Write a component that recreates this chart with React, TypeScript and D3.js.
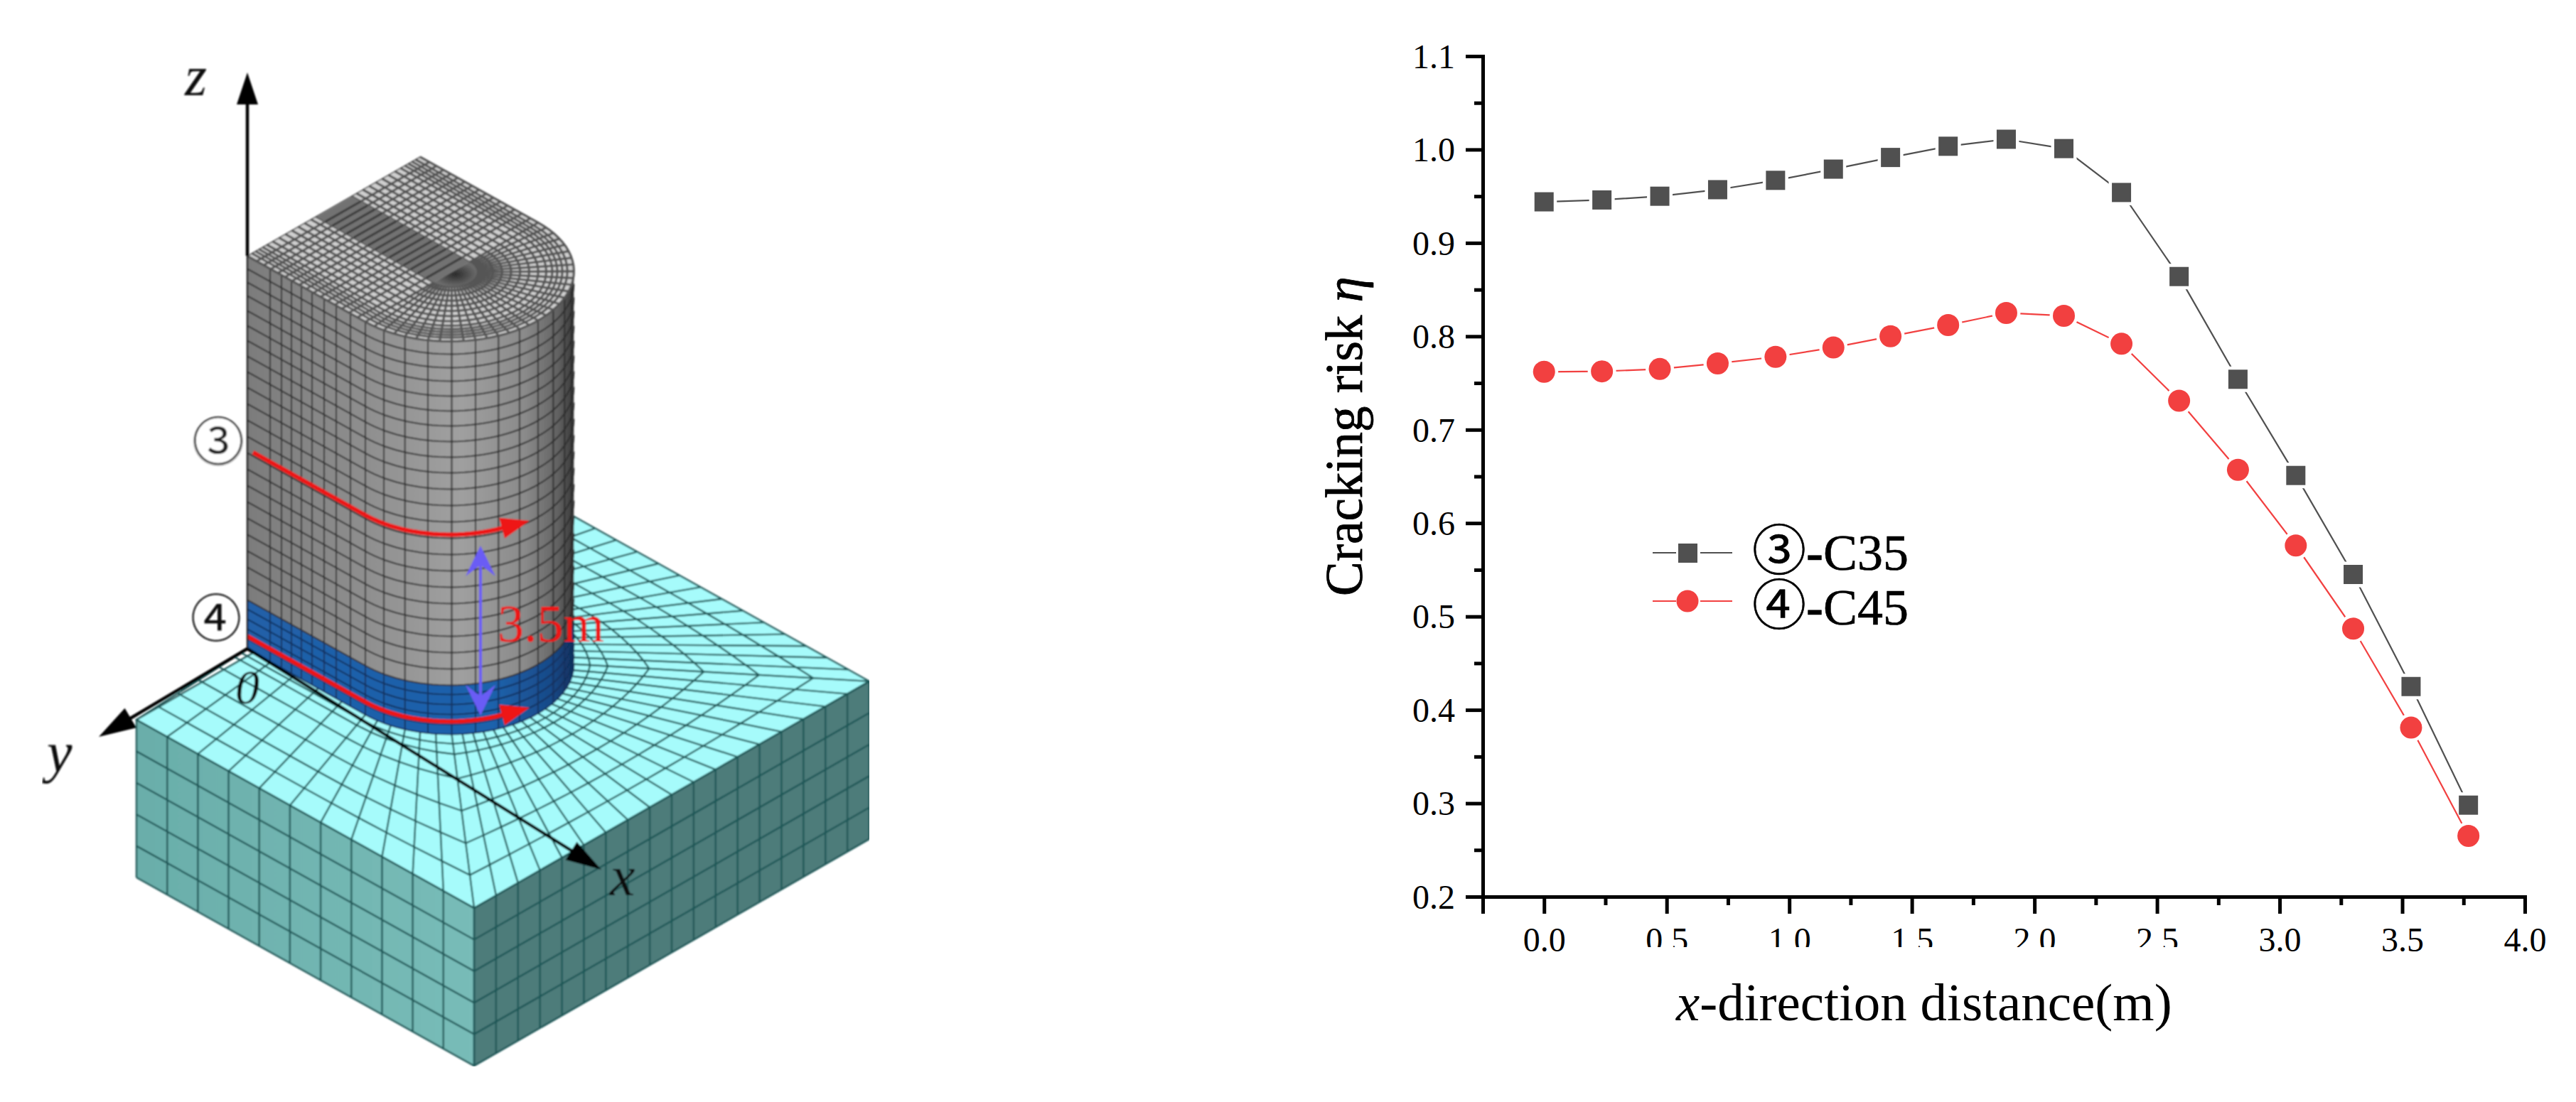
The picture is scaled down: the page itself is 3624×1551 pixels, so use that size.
import React, { useEffect, useRef } from "react";
import * as d3 from "d3";

// chart data
const distance = [0, 0.236, 0.472, 0.708, 0.944, 1.18, 1.413, 1.648, 1.885, 2.12, 2.355, 2.59, 2.83, 3.066, 3.3, 3.536, 3.77];
const riskC35 = [0.944, 0.946, 0.95, 0.957, 0.967, 0.979, 0.9915, 1.0035, 1.011, 1.001, 0.954, 0.864, 0.754, 0.651, 0.545, 0.425, 0.298];
const riskC45 = [0.762, 0.7625, 0.765, 0.771, 0.778, 0.788, 0.8, 0.812, 0.825, 0.822, 0.792, 0.731, 0.657, 0.576, 0.487, 0.381, 0.265];
const xMajor = [0, 0.5, 1, 1.5, 2, 2.5, 3, 3.5, 4];
const xMinor = [-0.25, 0.25, 0.75, 1.25, 1.75, 2.25, 2.75, 3.25, 3.75];
const yMajor = [0.2, 0.3, 0.4, 0.5, 0.6, 0.7, 0.8, 0.9, 1.0, 1.1];
const yMinor = [0.25, 0.35, 0.45, 0.55, 0.65, 0.75, 0.85, 0.95, 1.05];

// mesh model, in block units (u along the x axis, v across, w up)
const blockU = 475;
const blockV = 556;
const blockH = 222;
const colV0 = 165;
const colR = 121.5;
const colU0 = -9;
const colU1 = 157;
const colH = 553;
const bandH = 69;
const sideU = [-9, 23, 39, 53, 67, 82, 99, 116, 136, 157];
const bandRows = [14, 28, 42, 56];
const grayRows = [69, 92, 115, 138, 161, 184, 207, 230, 253, 276, 299, 322, 345, 368, 390, 412, 434, 455, 476, 497, 516, 535];
const topRings = [25, 32, 41, 50, 59, 68, 77, 86, 94, 100, 105, 110, 115, 121.5];
const topRows = [4, 14, 24, 34, 44, 54, 64, 74, 84, 94, 104, 114, 124, 134, 146];
const groundRings = [0.055, 0.115, 0.255, 0.44, 0.627, 0.81];
const leftCells = 11;
const rightCells = 18;
const backCells = 16;
const blockRows = 5;

const W = 3624;
const H = 1551;
const SERIF = "'Liberation Serif', 'Times New Roman', serif";
const CIRCLED = "'Noto Sans CJK SC', 'DejaVu Sans', sans-serif";

const x = d3.scaleLinear().domain([-0.25, 4]).range([2086, 3552]);
const y = d3.scaleLinear().domain([0.2, 1.1]).range([1262, 79]);

type Pt = [number, number];
const lineGen = d3.line<Pt>();
const curveGen = d3.line<Pt>().curve(d3.curveLinear);

const pr = (u: number, v: number, w = 0): Pt => [192 + u + v, 1013 + 0.558 * u - 0.574 * v - w];
const colMid = colV0 + colR;
const rad = (deg: number) => (deg * Math.PI) / 180;
const arcUV = (deg: number, r = colR): Pt => [colU1 + r * Math.cos(rad(deg)), colMid + r * Math.sin(rad(deg))];
const poly = (pts: Pt[]) => lineGen(pts) + "Z";

// visible outline of the column at height w
function outline(w: number, endDeg = 45, startU = colU0): Pt[] {
  const pts: Pt[] = [pr(startU, colV0, w)];
  for (let t = -90; t < endDeg; t += 3) {
    const [a, b] = arcUV(t);
    pts.push(pr(a, b, w));
  }
  const [a, b] = arcUV(endDeg);
  pts.push(pr(a, b, w));
  return pts;
}

// structured mesh on the block top: footprint point <-> block edge point
function groundStations(): { f: [number, number]; b: [number, number] }[] {
  const out: { f: [number, number]; b: [number, number] }[] = [];
  for (let i = 0; i < leftCells; i++) {
    const fuv: Pt = i < 5 ? [colU0 + ((colU1 - colU0) * i) / 5, colV0] : arcUV(-90 + (i - 5) * 7.5);
    out.push({ f: fuv, b: [(blockU * i) / leftCells, 0] });
  }
  for (let i = 0; i < rightCells; i++) {
    out.push({ f: arcUV(-45 + i * 5), b: [blockU, (blockV * i) / rightCells] });
  }
  for (let i = 0; i <= backCells; i++) {
    const fuv: Pt = i < 8 ? arcUV(45 + i * 5.625) : [colU1 + ((colU0 - colU1) * (i - 8)) / 8, colV0 + 2 * colR];
    out.push({ f: fuv, b: [blockU * (1 - i / backCells), blockV] });
  }
  return out;
}

function arrowHead(tip: Pt, dx: number, dy: number, len: number, half: number, notch = 0): string {
  const n = Math.hypot(dx, dy);
  const ux = dx / n;
  const uy = dy / n;
  const bx = tip[0] - ux * len;
  const by = tip[1] - uy * len;
  const pts: Pt[] = [
    tip,
    [bx - uy * half, by + ux * half],
    [tip[0] - ux * (len - notch), tip[1] - uy * (len - notch)],
    [bx + uy * half, by - ux * half],
  ];
  return poly(pts);
}

function Schematic() {
  const st = groundStations();
  const topFace: Pt[] = [pr(colU0, colV0, colH), ...outline(colH, 90).slice(1), pr(colU0, colV0 + 2 * colR, colH)];
  const bodyFace = [...outline(0), ...outline(colH).reverse()];
  const bandFace = [...outline(0), ...outline(bandH).reverse()];

  const redEnd = -20;
  const red3 = outline(281, redEnd, -1);
  const red4 = outline(18, redEnd, colU0);
  const tipOf = (pts: Pt[]): { tip: Pt; dx: number; dy: number } => {
    const a = pts[pts.length - 2];
    const b = pts[pts.length - 1];
    const dx = b[0] - a[0];
    const dy = b[1] - a[1];
    const n = Math.hypot(dx, dy);
    return { tip: [b[0] + (dx / n) * 38, b[1] + (dy / n) * 38], dx, dy };
  };
  const t3 = tipOf(red3);
  const t4 = tipOf(red4);

  // side mesh verticals
  const sideDeg = d3.range(-78.75, 45, 11.25);

  return (
    <g filter="url(#soft)">
      {/* block */}
      <path d={poly([pr(0, 0), pr(blockU, 0), pr(blockU, 0, -blockH), pr(0, 0, -blockH)])} fill="url(#blockLeft)" />
      <path d={poly([pr(blockU, 0), pr(blockU, blockV), pr(blockU, blockV, -blockH), pr(blockU, 0, -blockH)])} fill="#4d7c7a" />
      <path d={poly([pr(0, 0), pr(blockU, 0), pr(blockU, blockV), pr(0, blockV)])} fill="#a6fbfb" />
      <g fill="none" stroke="#1d5656" strokeWidth={2.4}>
        {d3.range(0, leftCells + 1).map((i) => (
          <path key={"bl" + i} d={lineGen([pr((blockU * i) / leftCells, 0), pr((blockU * i) / leftCells, 0, -blockH)])!} />
        ))}
        {d3.range(0, rightCells + 1).map((i) => (
          <path key={"br" + i} d={lineGen([pr(blockU, (blockV * i) / rightCells), pr(blockU, (blockV * i) / rightCells, -blockH)])!} />
        ))}
        {d3.range(0, blockRows + 1).map((i) => {
          const w = (-blockH * i) / blockRows;
          return <path key={"bh" + i} d={lineGen([pr(0, 0, w), pr(blockU, 0, w), pr(blockU, blockV, w)])!} />;
        })}
        {/* top of the block */}
        {st.map((s, i) => (
          <path key={"g" + i} d={lineGen([pr(s.f[0], s.f[1]), pr(s.b[0], s.b[1])])!} />
        ))}
        {groundRings.map((f) => (
          <path
            key={"ring" + f}
            d={lineGen(st.map((s) => pr(s.f[0] + (s.b[0] - s.f[0]) * f, s.f[1] + (s.b[1] - s.f[1]) * f)))!}
          />
        ))}
        <path d={poly([pr(0, 0), pr(blockU, 0), pr(blockU, blockV), pr(0, blockV)])} />
      </g>

      {/* column sides */}
      <path d={poly(bodyFace)} fill="url(#colGray)" />
      <path d={poly(bandFace)} fill="url(#colBlue)" />
      <g fill="none" stroke="#2d2d2d" strokeWidth={2}>
        {sideU.map((u) => (
          <path key={"su" + u} d={lineGen([pr(u, colV0, bandH), pr(u, colV0, colH)])!} />
        ))}
        {sideDeg.map((t) => {
          const [a, b] = arcUV(t);
          return <path key={"sd" + t} d={lineGen([pr(a, b, bandH), pr(a, b, colH)])!} />;
        })}
        {grayRows.map((w) => (
          <path key={"gr" + w} d={curveGen(outline(w))!} />
        ))}
      </g>
      <g fill="none" stroke="#12305e" strokeWidth={2}>
        {sideU.map((u) => (
          <path key={"bu" + u} d={lineGen([pr(u, colV0, 0), pr(u, colV0, bandH)])!} />
        ))}
        {sideDeg.map((t) => {
          const [a, b] = arcUV(t);
          return <path key={"bd" + t} d={lineGen([pr(a, b, 0), pr(a, b, bandH)])!} />;
        })}
        {bandRows.map((w) => (
          <path key={"br" + w} d={curveGen(outline(w))!} />
        ))}
        <path d={curveGen(outline(0))!} />
      </g>

      {/* column top */}
      <path d={poly(topFace)} fill="#cfcfcf" />
      <g fill="none" stroke="#555" strokeWidth={3.2}>
        {topRings.map((r) => {
          const pts: Pt[] = [pr(colU0, colMid - r, colH)];
          for (let t = -90; t <= 90; t += 4) {
            const [a, b] = arcUV(t, r);
            pts.push(pr(a, b, colH));
          }
          pts.push(pr(colU0, colMid + r, colH));
          return <path key={"tr" + r} d={lineGen(pts)!} />;
        })}
        {topRows.map((u) => (
          <path key={"tu" + u} d={lineGen([pr(u, colV0, colH), pr(u, colV0 + 2 * colR, colH)])!} />
        ))}
        {d3.range(-90, 90.1, 5.625).map((t) => {
          const [a, b] = arcUV(t, 25);
          const [c, d] = arcUV(t, colR);
          return <path key={"tr2" + t} d={lineGen([pr(a, b, colH), pr(c, d, colH)])!} />;
        })}
      </g>
      {/* dark strip and hole at the middle of the top */}
      <path
        d={poly([pr(colU0 + 1, colMid - 25, colH), pr(colU1, colMid - 25, colH), pr(colU1, colMid + 25, colH), pr(colU0 + 1, colMid + 25, colH)])}
        fill="#727272"
      />
      <g stroke="#3a3a3a" strokeWidth={3}>
        {topRows.map((u) => (
          <path key={"su2" + u} d={lineGen([pr(u, colMid - 25, colH), pr(u, colMid + 25, colH)])!} />
        ))}
      </g>
      <path
        d={poly(d3.range(-90, 90.1, 6).map((t) => { const [a, b] = arcUV(t, 25); return pr(a, b, colH); }))}
        fill="url(#hole)"
      />
      <path d={poly(topFace)} fill="none" stroke="#555" strokeWidth={1.5} />

      {/* section paths */}
      <path d={curveGen(red3)!} fill="none" stroke="#ee1414" strokeWidth={6} />
      <path d={arrowHead(t3.tip, t3.dx, t3.dy, 40, 15)} fill="#ee1414" />
      <path d={curveGen(red4)!} fill="none" stroke="#ee1414" strokeWidth={6} />
      <path d={arrowHead(t4.tip, t4.dx, t4.dy, 40, 15)} fill="#ee1414" />

      {/* height marker */}
      <path d="M676,790V985" stroke="#6a5cf5" strokeWidth={4} />
      <path d={arrowHead([676, 768], 0, -1, 43, 21, 16)} fill="#6a5cf5" />
      <path d={arrowHead([676, 1007], 0, 1, 43, 21, 16)} fill="#6a5cf5" />
      <text x={700} y={903} fontFamily={SERIF} fontSize={74} fill="#ee1414">3.5m</text>

      {/* axes */}
      <path d="M348,140V360" stroke="#000" strokeWidth={4.5} />
      <path d="M348,360V913" stroke="#222" strokeWidth={2.5} />
      <path d={arrowHead([348, 102], 0, -1, 45, 15)} fill="#000" />
      <path d="M348,913L170,1019" stroke="#000" strokeWidth={4.5} />
      <path d={arrowHead([139, 1037], -209, 124, 52, 16)} fill="#000" />
      <path d="M348,913L810,1201" stroke="#000" strokeWidth={4.5} />
      <path d={arrowHead([846, 1224], 498, 311, 50, 15)} fill="#000" />

      <g fontFamily={SERIF} fontStyle="italic" fontSize={80} fill="#111">
        <text x={260} y={134}>z</text>
        <text x={66} y={1086}>y</text>
        <text x={858} y={1260}>x</text>
        <text x={331} y={990} fontSize={68}>0</text>
      </g>
      <circle cx={307} cy={621} r={34} fill="#fff" stroke="#bbb" strokeWidth={2} />
      <text x={307} y={647} textAnchor="middle" fontFamily={CIRCLED} fontSize={72} fill="#222">③</text>
      <text x={304} y={896} textAnchor="middle" fontFamily={CIRCLED} fontSize={72} fill="#111">④</text>
    </g>
  );
}

function LineChart() {
  const axes = useRef<SVGGElement>(null);

  useEffect(() => {
    const g = d3.select(axes.current);
    g.selectAll("*").remove();

    const xAxis = g.append("g").attr("transform", `translate(0,${y.range()[0]})`);
    xAxis.call(d3.axisBottom(x).tickValues(xMinor).tickSize(12).tickFormat(() => ""));
    xAxis.append("g").call(d3.axisBottom(x).tickValues(xMajor).tickSize(24).tickFormat(d3.format(".1f")));
    xAxis.selectAll("text").attr("y", 77).attr("dy", 0);

    const yAxis = g.append("g").attr("transform", `translate(${x.range()[0]},0)`);
    yAxis.call(d3.axisLeft(y).tickValues(yMinor).tickSize(12).tickFormat(() => ""));
    yAxis.append("g").call(d3.axisLeft(y).tickValues(yMajor).tickSize(24).tickFormat(d3.format(".1f")));
    yAxis.selectAll("text").attr("x", -39).attr("dy", "0.34em");

    g.selectAll("path.domain").attr("stroke", "#000").attr("stroke-width", 5).attr("fill", "none");
    g.selectAll("line").attr("stroke", "#000").attr("stroke-width", 5);
    g.selectAll("text").attr("font-family", SERIF).attr("font-size", 48).attr("fill", "#000");
  }, []);

  const series = [
    { values: riskC35, color: "#505050", kind: "square" },
    { values: riskC45, color: "#f24040", kind: "circle" },
  ];
  const path = d3
    .line<number>()
    .x((_, i) => x(distance[i]))
    .y((d) => y(d));

  return (
    <g>
      <g ref={axes} />
      {/* some x tick labels are cut off at the bottom in the source */}
      <rect x={2240} y={1333} width={830} height={14} fill="#fff" />

      {series.map((s) => (
        <g key={s.kind}>
          <path d={path(s.values)!} fill="none" stroke={s.color} strokeWidth={2.2} />
          {s.values.map((d, i) =>
            s.kind === "square" ? (
              <rect
                key={i}
                x={x(distance[i]) - 13.5}
                y={y(d) - 13.5}
                width={27}
                height={27}
                fill={s.color}
                stroke="#fff"
                strokeWidth={9}
                paintOrder="stroke"
              />
            ) : (
              <circle key={i} cx={x(distance[i])} cy={y(d)} r={15.5} fill={s.color} stroke="#fff" strokeWidth={9} paintOrder="stroke" />
            )
          )}
        </g>
      ))}

      {/* legend */}
      <path d="M2325,778H2358M2392,778H2437" stroke="#505050" strokeWidth={2.2} />
      <rect x={2361} y={765} width={27} height={27} fill="#505050" />
      <path d="M2325,846H2358M2392,846H2437" stroke="#f24040" strokeWidth={2.2} />
      <circle cx={2374} cy={846} r={15.5} fill="#f24040" />
      <text x={2465} y={802} fontFamily={SERIF} fontSize={72} stroke="#000" strokeWidth={0.6}>
        <tspan fontFamily={CIRCLED} fontSize={76}>③</tspan>
        <tspan fontWeight="bold">-</tspan>
        <tspan>C35</tspan>
      </text>
      <text x={2465} y={879} fontFamily={SERIF} fontSize={72} stroke="#000" strokeWidth={0.6}>
        <tspan fontFamily={CIRCLED} fontSize={76}>④</tspan>
        <tspan fontWeight="bold">-</tspan>
        <tspan>C45</tspan>
      </text>

      {/* axis titles */}
      <text transform="translate(1916,839) rotate(-90)" fontFamily={SERIF} fontSize={73} stroke="#000" strokeWidth={0.8}>
        Cracking risk <tspan fontStyle="italic">η</tspan>
      </text>
      <text x={2358} y={1436} fontFamily={SERIF} fontSize={75}>
        <tspan fontStyle="italic">x</tspan>-direction distance(m)
      </text>
    </g>
  );
}

export default function App() {
  return (
    <svg width={W} height={H} viewBox={`0 0 ${W} ${H}`} style={{ position: "absolute", left: 0, top: 0, display: "block", background: "#fff" }}>
      <defs>
        <filter id="soft" x="0" y="0" width="1" height="1" filterUnits="objectBoundingBox">
          <feGaussianBlur stdDeviation={1} />
        </filter>
        <linearGradient id="colGray" gradientUnits="userSpaceOnUse" x1={348} y1={0} x2={808} y2={0}>
          <stop offset="0" stopColor="#7c7c7c" />
          <stop offset="0.35" stopColor="#8e8e8e" />
          <stop offset="0.65" stopColor="#a0a0a0" />
          <stop offset="0.85" stopColor="#8a8a8a" />
          <stop offset="0.95" stopColor="#626262" />
          <stop offset="1" stopColor="#383838" />
        </linearGradient>
        <linearGradient id="colBlue" gradientUnits="userSpaceOnUse" x1={348} y1={0} x2={808} y2={0}>
          <stop offset="0" stopColor="#2060a8" />
          <stop offset="0.75" stopColor="#1f62ac" />
          <stop offset="0.93" stopColor="#184a88" />
          <stop offset="1" stopColor="#10305e" />
        </linearGradient>
        <linearGradient id="blockLeft" gradientUnits="userSpaceOnUse" x1={192} y1={0} x2={667} y2={0}>
          <stop offset="0" stopColor="#6aaeaa" />
          <stop offset="1" stopColor="#78bcb8" />
        </linearGradient>
        <radialGradient id="hole">
          <stop offset="0" stopColor="#2c2c2c" />
          <stop offset="1" stopColor="#6a6a6a" />
        </radialGradient>
      </defs>
      <Schematic />
      <LineChart />
    </svg>
  );
}
